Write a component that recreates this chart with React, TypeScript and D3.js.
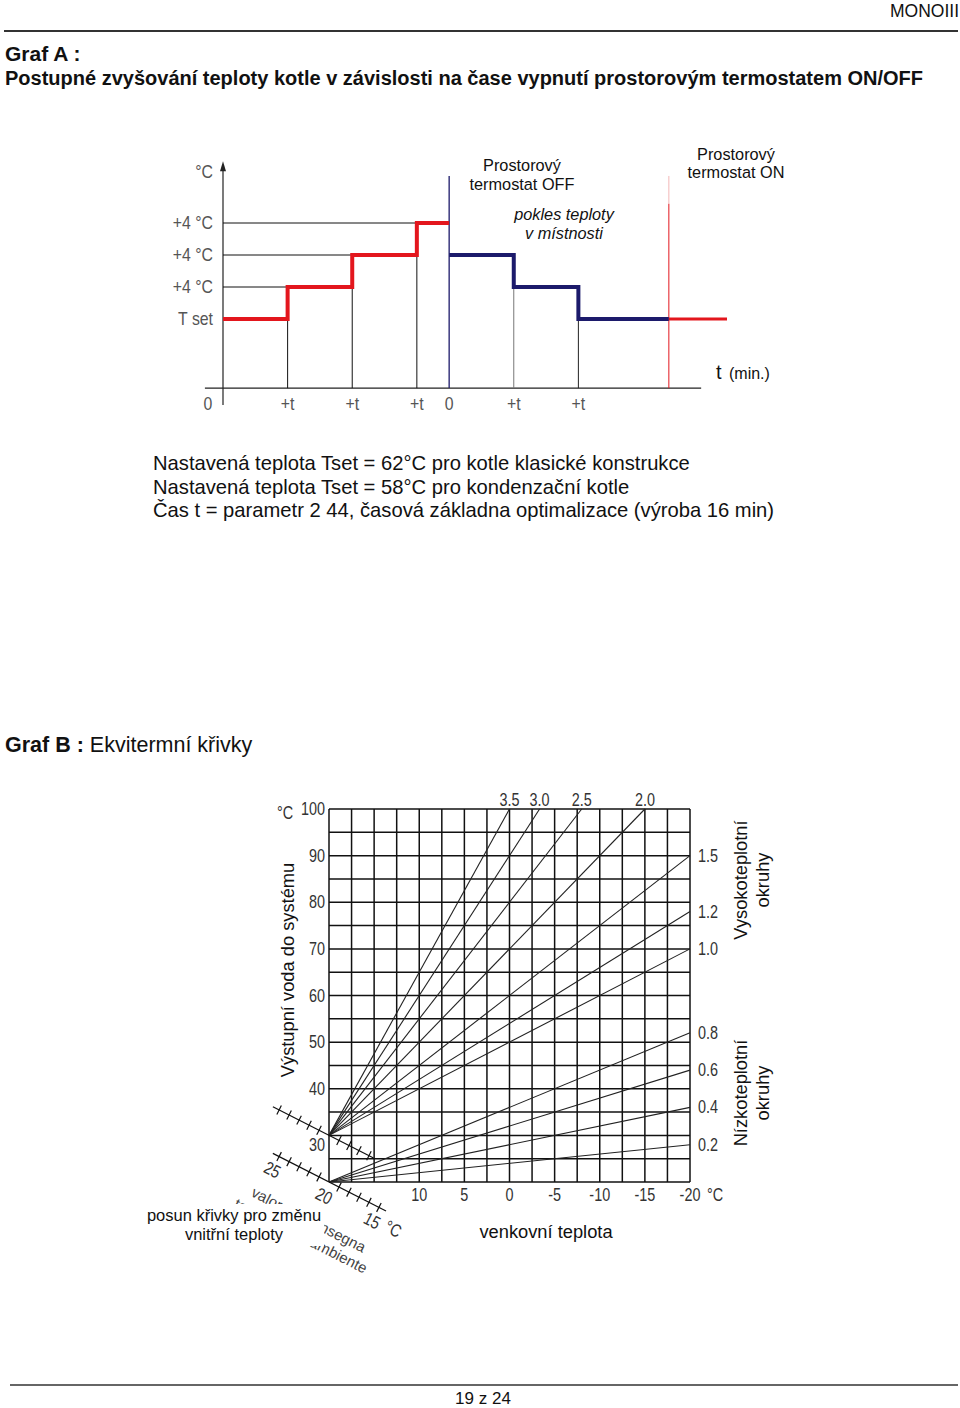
import * as d3 from "d3";
import type { ReactNode } from "react";

// Graf A – schodovitý průběh teploty kotle (jednotky: čas v krocích t, teplota v krocích +4 °C)
const heatTimes = [0, 1, 2, 3, 3.5];
const heatLevels = [0, 1, 2, 3, 3];
const coolTimes = [3.5, 4.5, 5.5, 6.9];
const coolLevels = [2, 1, 0, 0];
const resumeTimes = [6.9, 7.8];
const resumeLevels = [0, 0];
const yLabelsA = ["T set", "+4 °C", "+4 °C", "+4 °C"];
const xTickTimesA = [0, 1, 2, 3, 3.5, 4.5, 5.5];
const xTickLabelsA = ["0", "+t", "+t", "+t", "0", "+t", "+t"];
const OFF_TIME = 3.5;
const ON_TIME = 6.9;

// Graf B – ekvitermní křivky
const highSlopes = [3.5, 3.0, 2.5, 2.0, 1.5, 1.2, 1.0];
const lowSlopes = [0.8, 0.6, 0.4, 0.2];
const HIGH_BASE = 30;
const LOW_BASE = 20;
const flowTicks = [30, 40, 50, 60, 70, 80, 90, 100];
const outdoorTicks = [10, 5, 0, -5, -10, -15, -20];
const roomTicksLow = [15, 16, 17, 18, 19, 21, 22, 23, 24, 25];
const roomTicksHigh = [16, 17, 18, 19, 21, 22, 23, 24, 25];
const roomLabels = [25, 20, 15];

const SANS = "'Liberation Sans', Arial, sans-serif";
const RED = "#e3161d";
const NAVY = "#1c1a6b";

const xA = d3.scaleLinear().domain([0, 7.8]).range([223, 727]);
const yA = d3.scaleLinear().domain([0, 3]).range([319, 223]);
const AXIS_A = -2.16;

const xB = d3.scaleLinear().domain([20, -20]).range([329, 690]);
const yB = d3.scaleLinear().domain([20, 100]).range([1182, 809]);
const roomScale = d3.scaleLinear().domain([20, 25]).range([0, -56]);
const SLANT = 27;

// úzké písmo (Arial Narrow není k dispozici) – vodorovné stlačení
function Narrow({ x, y, sx = 0.8, anchor = "start", children }: { x: number; y: number; sx?: number; anchor?: string; children: ReactNode }) {
  return (
    <text transform={`translate(${x},${y}) scale(${sx},1)`} textAnchor={anchor}>
      {children}
    </text>
  );
}

const step = (ts: number[], ls: number[]) =>
  d3
    .line<number>()
    .x((t) => xA(t))
    .y((_, i) => yA(ls[i]))
    .curve(d3.curveStepAfter)(ts) ?? "";

function fan(slopes: number[], base: number) {
  return slopes.map((s) => {
    const endOut = Math.max(-20, 20 - (100 - base) / s);
    const endFlow = base + s * (20 - endOut);
    return { s, endOut, endFlow };
  });
}

function GrafA() {
  const axisY = yA(AXIS_A);
  return (
    <g>
      {/* osy */}
      <line x1={xA(-0.28)} x2={xA(7.4)} y1={axisY} y2={axisY} stroke="#222" strokeWidth={1.2} />
      <line x1={xA(0)} x2={xA(0)} y1={axisY + 17} y2={yA(4.75)} stroke="#222" strokeWidth={1.2} />
      <path d={`M${xA(0)},${yA(4.93)} l-3,10 l6,0 z`} fill="#222" />
      {/* vodítka */}
      {[1, 2, 3].map((i) => (
        <g key={i}>
          <line x1={xA(0)} x2={xA(heatTimes[i])} y1={yA(heatLevels[i])} y2={yA(heatLevels[i])} stroke="#111" strokeWidth={1} />
          <line x1={xA(heatTimes[i])} x2={xA(heatTimes[i])} y1={yA(heatLevels[i])} y2={axisY} stroke="#111" strokeWidth={1} />
        </g>
      ))}
      {[1, 2].map((i) => (
        <line key={i} x1={xA(coolTimes[i])} x2={xA(coolTimes[i])} y1={yA(coolLevels[i])} y2={axisY} stroke={i === 1 ? "#777" : "#222"} strokeWidth={1} />
      ))}
      <line x1={xA(OFF_TIME)} x2={xA(OFF_TIME)} y1={yA(4.47)} y2={axisY} stroke={NAVY} strokeWidth={1.3} />
      <line x1={xA(ON_TIME)} x2={xA(ON_TIME)} y1={yA(4.47)} y2={yA(3.6)} stroke="#f3b7b8" strokeWidth={1} />
      <line x1={xA(ON_TIME)} x2={xA(ON_TIME)} y1={yA(3.6)} y2={axisY} stroke={RED} strokeWidth={1} />
      {/* průběhy */}
      <path d={step(heatTimes, heatLevels)} fill="none" stroke={RED} strokeWidth={4} />
      <path d={step(coolTimes, coolLevels)} fill="none" stroke={NAVY} strokeWidth={4} />
      <path d={step(resumeTimes, resumeLevels)} fill="none" stroke={RED} strokeWidth={3} />
      {/* popisky os */}
      <g fontFamily={SANS} fontSize={18} fill="#555">
        {yLabelsA.map((l, i) => (
          <Narrow key={i} x={213} y={yA(i) + 6} sx={0.88} anchor="end">{l}</Narrow>
        ))}
        <Narrow x={213} y={yA(4.6) + 6} sx={0.88} anchor="end">°C</Narrow>
        {xTickTimesA.map((t, i) => (
          <Narrow key={i} x={xA(t) + (i === 0 ? -15 : 0)} y={axisY + 22} sx={0.88} anchor="middle">{xTickLabelsA[i]}</Narrow>
        ))}
      </g>
      <text x={716} y={axisY - 9} fontFamily={SANS} fontSize={20} fill="#111">t</text>
      <text x={729} y={axisY - 9} fontFamily={SANS} fontSize={16} fill="#111">(min.)</text>
      <g fontFamily={SANS} fontSize={16.3} fill="#111" textAnchor="middle">
        <text x={522} y={171}>Prostorový</text>
        <text x={522} y={190}>termostat OFF</text>
        <text x={736} y={160}>Prostorový</text>
        <text x={736} y={178}>termostat ON</text>
        <text x={564} y={220} fontStyle="italic">pokles teploty</text>
        <text x={564} y={239} fontStyle="italic">v místnosti</text>
      </g>
    </g>
  );
}

function SlantAxis({ cx, cy, left, right, ticks, labels }: { cx: number; cy: number; left: number; right: number; ticks: number[]; labels: boolean }) {
  return (
    <g transform={`translate(${cx},${cy}) rotate(${SLANT})`}>
      <line x1={left} x2={right} y1={0} y2={0} stroke="#111" strokeWidth={1.2} />
      {ticks.map((t) => (
        <line key={t} x1={roomScale(t)} x2={roomScale(t)} y1={-5} y2={5} stroke="#111" strokeWidth={1.2} />
      ))}
      {labels && (
        <g fontFamily={SANS} fontSize={18} fill="#333">
          {roomLabels.map((t) => (
            <Narrow key={t} x={roomScale(t) + (t === 20 ? 2 : 0)} y={21} anchor="middle">{t}</Narrow>
          ))}
          <Narrow x={roomScale(13)} y={19} anchor="middle">°C</Narrow>
        </g>
      )}
    </g>
  );
}

function GrafB() {
  const vLines = d3.range(20, -20.01, -2.5);
  const hLines = d3.range(20, 100.01, 5);
  const high = fan(highSlopes, HIGH_BASE);
  const low = fan(lowSlopes, LOW_BASE);
  const fanLine = (base: number, f: { endOut: number; endFlow: number }) =>
    d3.line<[number, number]>().x((d) => xB(d[0])).y((d) => yB(d[1]))([
      [20, base],
      [f.endOut, f.endFlow],
    ]) ?? "";
  return (
    <g>
      {/* italský popisek překrytý českým */}
      <g transform={`translate(${xB(20)},${yB(LOW_BASE)}) rotate(${SLANT})`} fontFamily={SANS} fontSize={15} fill="#444">
        <text x={-64} y={48}>valore di consegna</text>
        <text x={-74} y={66}>temperatura ambiente</text>
      </g>
      <rect x={140} y={1204} width={184} height={42} fill="#fff" />
      <g fontFamily={SANS} fontSize={16.5} fill="#111" textAnchor="middle">
        <text x={234} y={1221}>posun křivky pro změnu</text>
        <text x={234} y={1240}>vnitřní teploty</text>
      </g>

      {vLines.map((v) => (
        <line key={`v${v}`} x1={xB(v)} x2={xB(v)} y1={yB(20)} y2={yB(100)} stroke="#111" strokeWidth={1.5} />
      ))}
      {hLines.map((h) => (
        <line key={`h${h}`} x1={xB(20)} x2={xB(-20)} y1={yB(h)} y2={yB(h)} stroke="#111" strokeWidth={1.5} />
      ))}
      {high.map((f) => (
        <path key={`hi${f.s}`} d={fanLine(HIGH_BASE, f)} stroke="#222" strokeWidth={1.1} fill="none" />
      ))}
      {low.map((f) => (
        <path key={`lo${f.s}`} d={fanLine(LOW_BASE, f)} stroke="#222" strokeWidth={1.1} fill="none" />
      ))}

      <SlantAxis cx={xB(20)} cy={yB(HIGH_BASE)} left={-63} right={50} ticks={roomTicksHigh} labels={false} />
      <SlantAxis cx={xB(20)} cy={yB(LOW_BASE)} left={-63} right={64} ticks={roomTicksLow} labels={true} />

      <g fontFamily={SANS} fontSize={18} fill="#333">
        {flowTicks.map((v) => (
          <Narrow key={v} x={325} y={yB(v) + (v === 30 ? 16 : 6)} anchor="end">{v}</Narrow>
        ))}
        <Narrow x={277} y={819}>°C</Narrow>
        {outdoorTicks.map((v) => (
          <Narrow key={v} x={xB(v)} y={1201} anchor="middle">{v}</Narrow>
        ))}
        <Narrow x={707} y={1201}>°C</Narrow>
        {[...high, ...low]
          .filter((f) => f.endOut > -20)
          .map((f) => (
            <Narrow key={`t${f.s}`} x={xB(f.endOut)} y={806} anchor="middle">{f.s.toFixed(1)}</Narrow>
          ))}
        {[...high, ...low]
          .filter((f) => f.endOut <= -20)
          .map((f) => (
            <Narrow key={`r${f.s}`} x={698} y={yB(f.endFlow) + 6}>{f.s.toFixed(1)}</Narrow>
          ))}
      </g>

      <g fontFamily={SANS} fontSize={18.3} fill="#111" textAnchor="middle">
        <text transform="translate(294,970) rotate(-90)">Výstupní voda do systému</text>
        <text transform="translate(747,880) rotate(-90)">Vysokoteplotní</text>
        <text transform="translate(769,880) rotate(-90)">okruhy</text>
        <text transform="translate(747,1093) rotate(-90)">Nízkoteplotní</text>
        <text transform="translate(769,1093) rotate(-90)">okruhy</text>
        <text x={546} y={1238}>venkovní teplota</text>
      </g>
    </g>
  );
}

export default function App() {
  return (
    <svg
      width={960}
      height={1408}
      style={{ position: "absolute", left: 0, top: 0, display: "block", background: "#fff" }}
    >
      <rect width={960} height={1408} fill="#fff" />
      <text x={959} y={17} textAnchor="end" fontFamily={SANS} fontSize={17.5} fill="#111">MONOIII</text>
      <line x1={4} x2={958} y1={31} y2={31} stroke="#333" strokeWidth={2} />
      <g fontFamily={SANS} fontWeight="bold" fill="#111">
        <text x={5} y={61} fontSize={21}>Graf A :</text>
        <text x={5} y={85} fontSize={20}>Postupné zvyšování teploty kotle v závislosti na čase vypnutí prostorovým termostatem ON/OFF</text>
      </g>
      <GrafA />
      <g fontFamily={SANS} fontSize={20.2} fill="#111">
        <text x={153} y={470}>Nastavená teplota Tset = 62°C pro kotle klasické konstrukce</text>
        <text x={153} y={494}>Nastavená teplota Tset = 58°C pro kondenzační kotle</text>
        <text x={153} y={517}>Čas t = parametr 2 44, časová základna optimalizace (výroba 16 min)</text>
      </g>
      <text x={5} y={752} fontFamily={SANS} fontSize={21.5} fill="#111">
        <tspan fontWeight="bold">Graf B : </tspan>
        <tspan>Ekvitermní křivky</tspan>
      </text>
      <GrafB />
      <line x1={10} x2={958} y1={1385} y2={1385} stroke="#333" strokeWidth={1.5} />
      <text x={483} y={1404} textAnchor="middle" fontFamily={SANS} fontSize={17} fill="#111">19 z 24</text>
    </svg>
  );
}
